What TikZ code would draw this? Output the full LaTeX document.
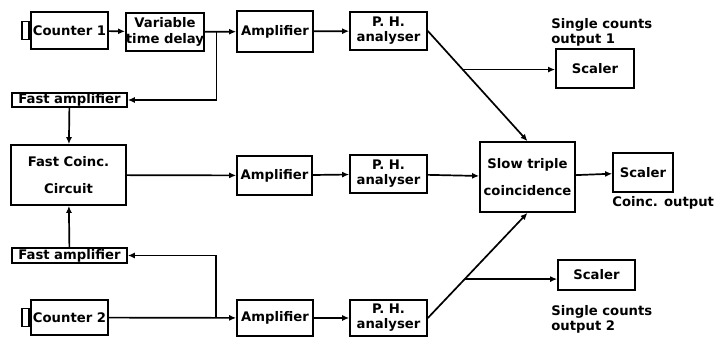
\documentclass[tikz,border=0pt]{standalone}
\usepackage{fontspec}
\setmainfont{DejaVu Sans}
\usetikzlibrary{arrows.meta,calc}
\tikzset{
	blk/.style args={#1x#2}{draw, line width=0.85pt, inner sep=0pt, align=center, minimum width=#1*0.5pt, minimum height=#2*0.5pt},
	tabbox/.style={draw, line width=0.85pt, inner sep=0pt, minimum width=3.5pt, minimum height=9pt},
	fl/.style={line width=0.85pt, -{Latex[length=3.5pt,width=3pt]}},
	lbl/.style={anchor=north west, inner sep=0pt, align=left}
}

\begin{document}
\begin{tikzpicture}[x=0.5pt, y=-0.5pt, font=\fontsize{6.6}{7.6}\selectfont\bfseries]
			\useasboundingbox (0,0) rectangle (717,337);
			% upper channel
			\node[blk=77x37] (cnt1) at (69.5,30.5) {Counter 1};
			\node[tabbox, anchor=east] (tab1) at (cnt1.west) {};
			\node[blk=64x38] (dly) at (165,32) {Variable\\time delay};
			\node[blk=76x41] (amp1) at (275,31.5) {Amplifier};
			\node[blk=77x38] (pha1) at (388.5,31) {P. H.\\analyser};
			\node[blk=78x39] (scl1) at (595,68.5) {Scaler};
			\node[lbl] (out1) at (551,18) {Single counts\\output 1};
			\node[blk=115x14] (famp1) at (69.5,100) {Fast amplifier};
			% middle channel
			\node[blk=115x60] (fcc) at (68.5,175) {Fast Coinc.\\[6pt]Circuit};
			\node[blk=75x39] (amp2) at (274.5,175.5) {Amplifier};
			\node[blk=77x38] (pha2) at (388.5,174) {P. H.\\analyser};
			\node[blk=95x70] (slow) at (527.5,177) {Slow triple\\[6pt]coincidence};
			\node[blk=60x39] (scl2) at (643,172.5) {Scaler};
			\node[lbl] (outc) at (612,196) {Coinc. output};
			% lower channel
			\node[blk=115x15] (famp2) at (69.5,255.5) {Fast amplifier};
			\node[blk=77x35] (cnt2) at (69.5,317.5) {Counter 2};
			\node[tabbox, anchor=east] (tab2) at (cnt2.west) {};
			\node[blk=76x36] (amp3) at (275,318) {Amplifier};
			\node[blk=77x36] (pha3) at (388.5,318) {P. H.\\analyser};
			\node[blk=77x30] (scl3) at (596.5,275) {Scaler};
			\node[lbl] (out2) at (551,305) {Single counts\\output 2};

			\coordinate (br1) at ($(dly.east)!0.375!(amp1.west)$);
			\coordinate (br2) at ($(cnt2.east)!0.84!(amp3.west)$);
			\coordinate (sp1) at ($(pha1.east)!0.35!(slow.north)$);
			\coordinate (sp2) at ($(pha3.east)!0.37!(slow.south)$);

			\draw[fl] (cnt1) -- (dly);
			\draw[fl] (dly) -- (amp1);
			\draw[fl] (br1) |- (famp1.east);
			\draw[fl] (amp1) -- (pha1);
			\draw[fl] (pha1.east) -- (slow.north);
			\draw[fl] (sp1) -- (sp1 -| scl1.west);
			\draw[fl] (famp1) -- (fcc);
			\draw[fl] (famp2) -- (fcc);
			\draw[fl] (fcc) -- (amp2);
			\draw[fl] (amp2) -- (pha2);
			\draw[fl] (pha2) -- (slow);
			\draw[fl] (slow) -- (scl2);
			\draw[fl] (cnt2) -- (amp3);
			\draw[fl] (br2) |- (famp2.east);
			\draw[fl] (amp3) -- (pha3);
			\draw[fl] (pha3.east) -- (slow.south);
			\draw[fl] (sp2) -- (sp2 -| scl3.west);
\end{tikzpicture}
\end{document}
